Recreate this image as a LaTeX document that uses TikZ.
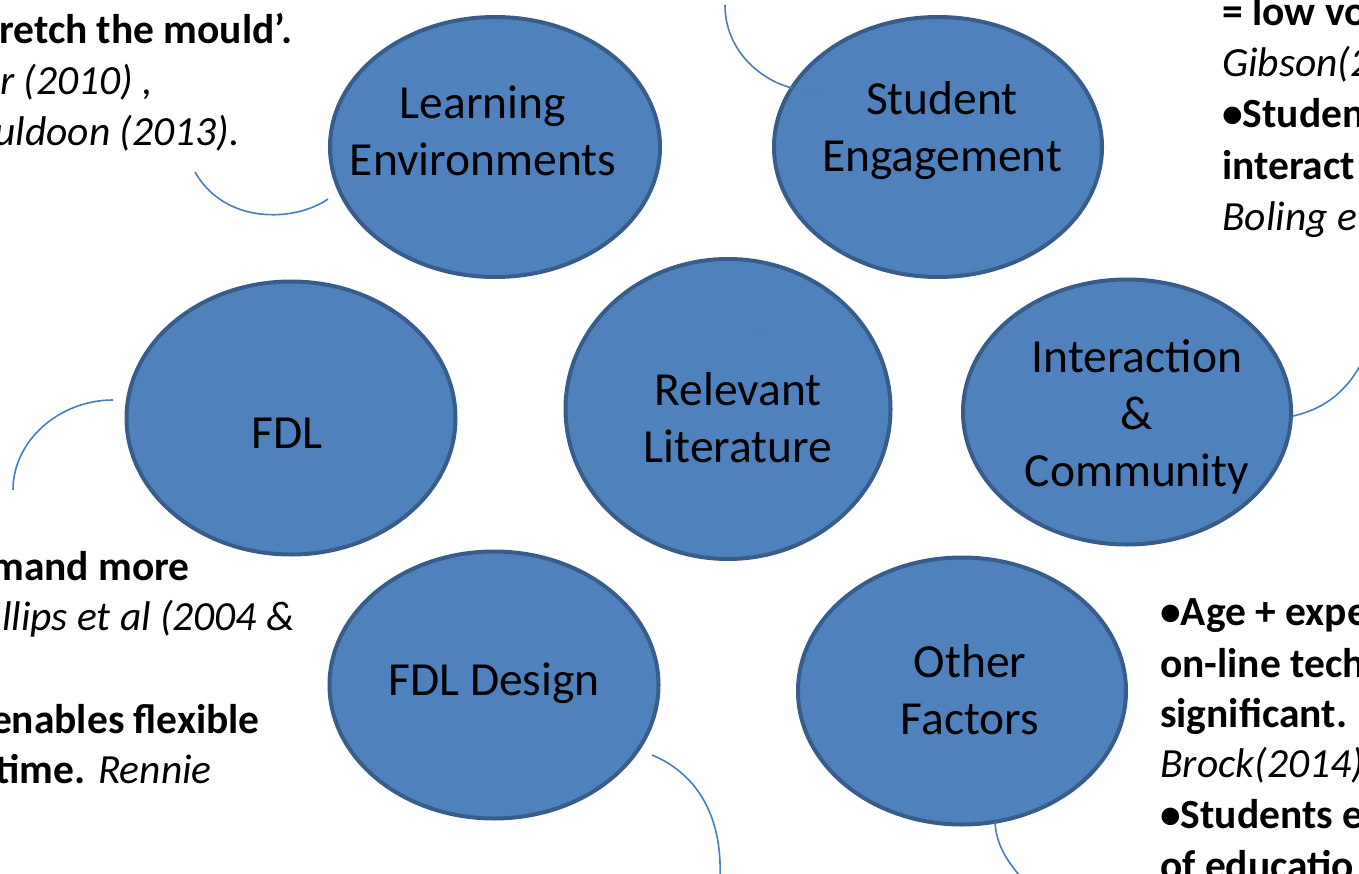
\documentclass[tikz,border=0pt]{standalone}
\usepackage{fontspec}
\setmainfont{Carlito}
\usetikzlibrary{shapes.geometric}
\definecolor{ellfill}{HTML}{4F81BD}
\definecolor{ellline}{HTML}{385D8A}
\definecolor{connc}{HTML}{4A7EBB}
\begin{document}
\begin{tikzpicture}[x=1pt,y=-1pt,
  bubble/.style={ellipse, draw=ellline, fill=ellfill, line width=4pt, inner sep=0pt},
  bubtext/.style={align=center, font=\fontsize{47.5}{57}\selectfont, inner sep=0pt, text=black},
  sidel/.style={inner sep=0pt, anchor=base east, font=\fontsize{41.5}{51}\selectfont},
  sider/.style={inner sep=0pt, anchor=base west, font=\fontsize{41.5}{51}\selectfont},
  connline/.style={draw=connc, line width=1.6pt}]
\useasboundingbox (0,0) rectangle (1359,874);
\clip (0,0) rectangle (1359,874);
\fill[white] (0,0) rectangle (1359,874);

% bubbles
\node[bubble, minimum width=330pt, minimum height=260pt] (le) at (495,147) {};
\node[bubble, minimum width=328pt, minimum height=260pt] (se) at (938,147) {};
\node[bubble, minimum width=325pt, minimum height=300pt] (rl) at (728,409) {};
\node[bubble, minimum width=329pt, minimum height=273pt] (fdl) at (291,418) {};
\node[bubble, minimum width=328pt, minimum height=265pt] (ic) at (1127,412) {};
\node[bubble, minimum width=329pt, minimum height=267pt] (fd) at (494,685) {};
\node[bubble, minimum width=328pt, minimum height=267pt] (of) at (962,691) {};

% bubble texts
\node[bubtext] (tle) at (483,131) {Learning\\Environments};
\node[bubtext] (tse) at (942,131) {Student\\Engagement};
\node[bubtext] (trl) at (738,418) {Relevant\\Literature};
\node[bubtext] (tfdl) at (287,433) {FDL};
\node[bubtext] (tic) at (1137,417) {Interaction\\\&\\Community};
\node[bubtext] (tfd) at (494,683) {FDL Design};
\node[bubtext] (tof) at (970,690) {Other\\Factors};

% connector ends
\coordinate (c1a) at (328,199); \coordinate (c1b) at (195,172);
\coordinate (c2a) at (792,88);  \coordinate (c2b) at (725,5); \coordinate (c2c) at (828,96);
\coordinate (c3a) at (1293,416); \coordinate (c3b) at (1362,362);
\coordinate (c4a) at (113,400); \coordinate (c4b) at (13,490);
\coordinate (c5a) at (652,755); \coordinate (c5b) at (720,876);
\coordinate (c6a) at (995,822); \coordinate (c6b) at (1020,876);
\coordinate (c7a) at (740,329); \coordinate (c7b) at (780,336);

\draw[connline] (c1a) .. controls (295,222) and (225,225) .. (c1b);
\draw[connline] (c2a) .. controls (760,80) and (725,50) .. (c2b);
\draw[connline, opacity=0.3] (c2a) .. controls (805,92) and (815,95) .. (c2c);
\draw[connline] (c3a) .. controls (1320,410) and (1345,395) .. (c3b);
\draw[connline] (c4a) .. controls (60,400) and (13,440) .. (c4b);
\draw[connline] (c5a) .. controls (700,775) and (722,820) .. (c5b);
\draw[connline] (c6a) .. controls (996,845) and (1008,862) .. (c6b);
\draw[connline, opacity=0.2] (c7a) .. controls (755,333) and (768,336) .. (c7b);

% side texts top-left
\node[sidel] (tl1) at (293,44) {\textbf{retch the mould’.}};
\node[sidel] (tl2) at (153,95) {\textit{r (2010) ,}};
\node[sidel] (tl3) at (240,146) {\textit{uldoon (2013).}};

% side texts bottom-left
\node[sidel] (bl1) at (190,580) {\textbf{mand more}};
\node[sidel] (bl2) at (295,630) {\textit{llips et al (2004 \&}};
\node[sidel] (bl3) at (260,733) {\textbf{enables flexible}};
\node[sidel] (bl4) at (212,783) {\textbf{time.} \textit{Rennie}};

% side texts top-right
\node[sider] (tr1) at (1222,26) {\textbf{= low vo}};
\node[sider] (tr2) at (1222,77) {\textit{Gibson(2}};
\node[sider] (tr3) at (1222,128) {\textbf{•Studen}};
\node[sider] (tr4) at (1222,180) {\textbf{interact}};
\node[sider] (tr5) at (1222,231) {\textit{Boling e}};

% side texts bottom-right
\node[sider] (br1) at (1160,625) {\textbf{•Age + expe}};
\node[sider] (br2) at (1160,677) {\textbf{on-line tech}};
\node[sider] (br3) at (1160,727) {\textbf{significant.}};
\node[sider] (br4) at (1160,777) {\textit{Brock(2014)}};
\node[sider] (br5) at (1160,828) {\textbf{•Students e}};
\node[sider] (br6) at (1160,879) {\textbf{of educatio}};
\end{tikzpicture}
\end{document}
